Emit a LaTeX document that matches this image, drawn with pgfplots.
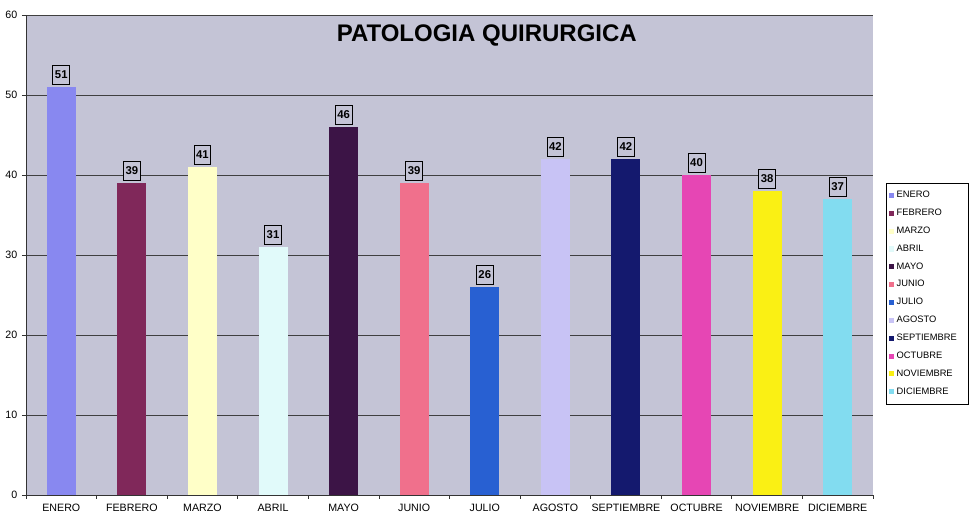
\documentclass[border=0pt]{standalone}
\usepackage{pgfplots}
\pgfplotsset{compat=1.18}
\usepackage{fontspec}
\setmainfont{Liberation Sans}
\definecolor{bg}{RGB}{196,196,214}
\definecolor{c1}{RGB}{136,136,240}
\definecolor{c2}{RGB}{128,40,90}
\definecolor{c3}{RGB}{255,255,200}
\definecolor{c4}{RGB}{225,250,250}
\definecolor{c5}{RGB}{60,20,70}
\definecolor{c6}{RGB}{240,112,140}
\definecolor{c7}{RGB}{40,96,210}
\definecolor{c8}{RGB}{200,195,245}
\definecolor{c9}{RGB}{20,25,110}
\definecolor{c10}{RGB}{230,70,180}
\definecolor{c11}{RGB}{250,240,20}
\definecolor{c12}{RGB}{130,220,240}
\begin{document}
\begin{tikzpicture}
\useasboundingbox (0,0) rectangle (729pt,388.5pt);
\begin{axis}[
  at={(19.5pt,17.25pt)}, anchor=south west,
  width=635.25pt, height=360pt, scale only axis,
  ybar, bar width=21.75pt, bar shift=0pt,
  xmin=-0.5, xmax=11.5, ymin=0, ymax=60,
  ytick={0,10,...,60},
  ymajorgrids, grid style={black!75, line width=0.6pt},
  axis background/.style={fill=bg},
  axis x line*=bottom, axis y line*=left,
  axis line style={black!80, line width=0.6pt},
  tick style={black!80, line width=0.6pt},
  tick align=outside, major tick length=3pt,
  xtick={-0.5,0.5,...,11.5}, xticklabels={},
  extra x ticks={0,1,...,11},
  extra x tick labels={ENERO,FEBRERO,MARZO,ABRIL,MAYO,JUNIO,JULIO,AGOSTO,SEPTIEMBRE,OCTUBRE,NOVIEMBRE,DICIEMBRE},
  extra x tick style={major tick length=0pt, grid=none, xticklabel style={yshift=-3pt}},
  ticklabel style={font=\fontsize{8}{9}\selectfont},
  /pgf/number format/assume math mode=true,
  nodes near coords,
  every node near coord/.append style={draw=black, line width=0.6pt, fill=bg, font=\bfseries\fontsize{8.5}{9}\selectfont, inner xsep=1.6pt, inner ysep=4pt, yshift=2pt},
  legend style={at={(1.0154,0.65)}, anchor=north west, draw=black, fill=white,
    font=\fontsize{7}{7.5}\selectfont, row sep=3pt, inner xsep=2pt, inner ysep=4pt,
    text width=50pt},
  legend cell align=left,
  legend image code/.code={\fill[#1,draw=none] (0pt,-1.9pt) rectangle (3.8pt,1.9pt);},
]
\addplot[fill=c1, draw=none] coordinates {(0,51)};
\addplot[fill=c2, draw=none] coordinates {(1,39)};
\addplot[fill=c3, draw=none] coordinates {(2,41)};
\addplot[fill=c4, draw=none] coordinates {(3,31)};
\addplot[fill=c5, draw=none] coordinates {(4,46)};
\addplot[fill=c6, draw=none] coordinates {(5,39)};
\addplot[fill=c7, draw=none] coordinates {(6,26)};
\addplot[fill=c8, draw=none] coordinates {(7,42)};
\addplot[fill=c9, draw=none] coordinates {(8,42)};
\addplot[fill=c10, draw=none] coordinates {(9,40)};
\addplot[fill=c11, draw=none] coordinates {(10,38)};
\addplot[fill=c12, draw=none] coordinates {(11,37)};
\legend{ENERO,FEBRERO,MARZO,ABRIL,MAYO,JUNIO,JULIO,AGOSTO,SEPTIEMBRE,OCTUBRE,NOVIEMBRE,DICIEMBRE}
\node[font=\bfseries\fontsize{18}{21}\selectfont] at (axis description cs:0.544,0.958) {PATOLOGIA QUIRURGICA};
\end{axis}
\end{tikzpicture}
\end{document}
